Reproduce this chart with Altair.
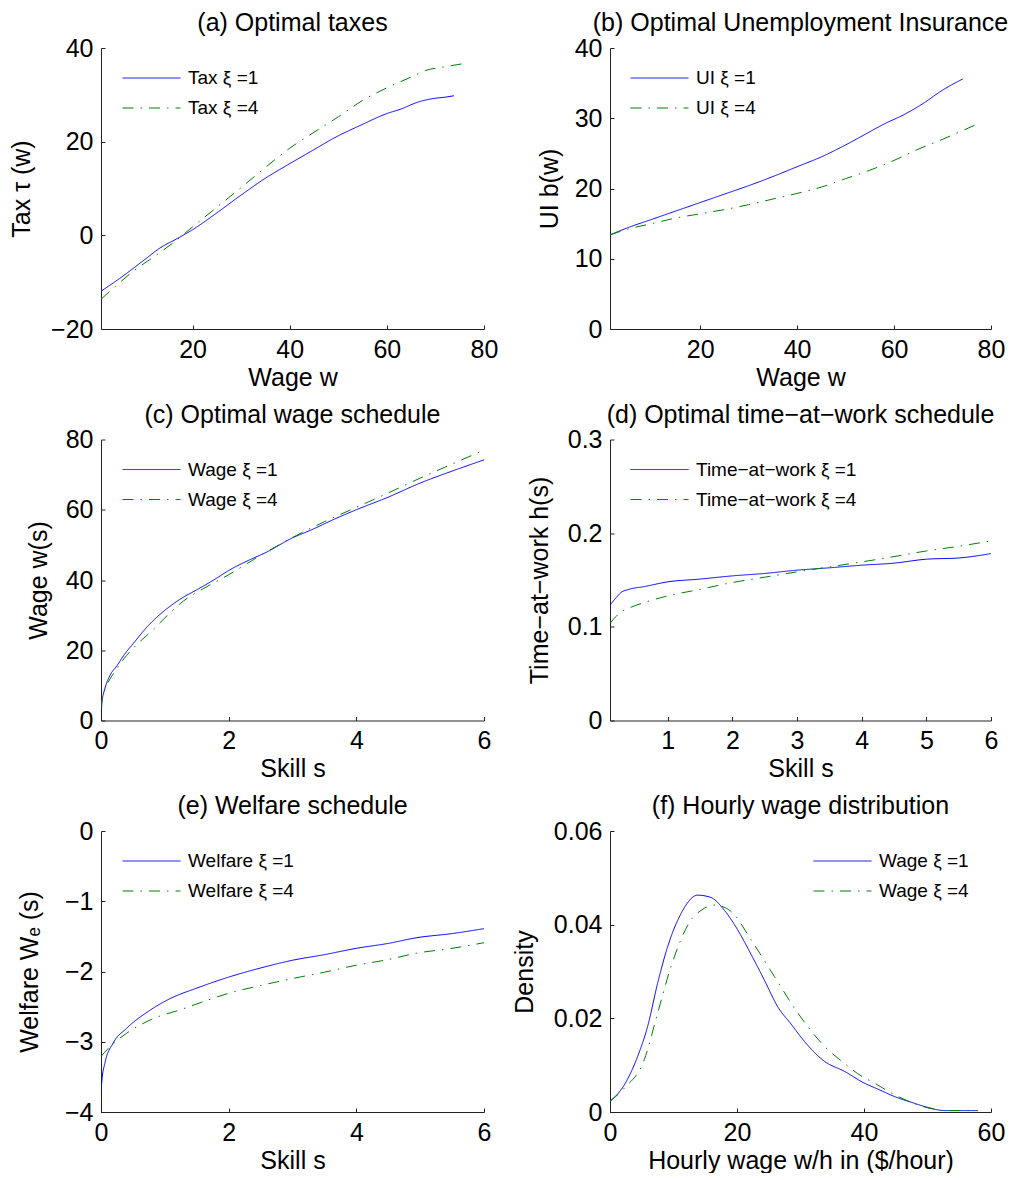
import altair as alt
import pandas as pd

FONT = "Liberation Sans"
BLUE = "#0000ff"
GREEN = "#008000"
DASHDOT = [11, 7, 1.5, 7]

# (a) Optimal taxes
a_w1 = [1.2, 5, 10, 13.3, 17, 20, 25, 30, 35, 40, 45, 49, 55, 60, 63, 66, 69.5, 72, 73.8]
a_t1 = [-11.9, -9.2, -5.3, -2.7, -0.6, 1.2, 4.8, 8.6, 12.2, 15.3, 18.3, 20.7, 23.7, 26.0, 27.0, 28.3, 29.2, 29.5, 29.8]
a_w4 = [1.2, 4, 8, 12, 16, 20, 25, 30, 35, 40, 45, 50, 55, 60, 65, 68, 72, 76]
a_t4 = [-13.6, -11.0, -7.5, -4.6, -1.6, 1.8, 6.0, 10.2, 14.5, 18.6, 22.0, 25.3, 28.8, 31.5, 33.8, 35.2, 36.0, 36.7]

# (b) Optimal unemployment insurance
b_w1 = [1.4, 5, 10, 15, 20, 25, 30, 35, 40, 45, 50, 54, 58, 62, 66, 70, 74.2]
b_b1 = [13.4, 14.4, 15.6, 16.8, 18.0, 19.2, 20.4, 21.7, 23.1, 24.5, 26.2, 27.7, 29.2, 30.5, 32.1, 34.0, 35.6]
b_w4 = [1.4, 5, 10, 15, 20, 25, 30, 35, 40, 45, 50, 55, 60, 65, 70, 76.6]
b_b4 = [13.4, 14.2, 15.0, 15.8, 16.4, 17.0, 17.7, 18.5, 19.3, 20.2, 21.4, 22.6, 24.0, 25.6, 27.0, 29.0]

# (c) Optimal wage schedule
c_s1 = [0, 0.016, 0.06, 0.14, 0.25, 0.375, 0.5, 0.74, 1.03, 1.29, 1.5, 1.81, 2.0, 2.3, 2.59, 3.0, 3.3, 3.64, 4.0, 4.5, 5.0, 5.5, 6.0]
c_w1 = [0.5, 5.2, 9, 12.8, 15.6, 19, 21.8, 27, 31.8, 35.1, 37.2, 40.5, 42.7, 45.5, 47.9, 52.0, 54.3, 57.2, 60.0, 63.6, 67.6, 71.0, 74.2]
c_s4 = [0, 0.02, 0.09, 0.2, 0.4, 0.6, 0.77, 1.0, 1.29, 1.6, 2.0, 2.5, 3.0, 3.5, 4.0, 4.5, 5.0, 5.5, 6.0]
c_w4 = [3.5, 6.5, 10, 13.5, 18.5, 22.3, 25.1, 29.2, 34.0, 37.5, 41.5, 47.0, 52.1, 56.6, 60.7, 64.8, 69.0, 73.0, 77.0]

# (d) Optimal time-at-work schedule
d_s1 = [0.11, 0.2, 0.28, 0.4, 0.64, 1.0, 1.5, 2.0, 2.5, 3.0, 3.5, 4.0, 4.5, 5.0, 5.5, 6.0]
d_h1 = [0.1232, 0.131, 0.1367, 0.140, 0.143, 0.148, 0.151, 0.1544, 0.157, 0.1605, 0.163, 0.1658, 0.168, 0.1722, 0.1735, 0.1782]
d_s4 = [0.11, 0.2, 0.28, 0.4, 0.64, 1.0, 1.5, 2.0, 2.5, 3.0, 3.5, 4.0, 4.5, 5.0, 5.5, 6.0]
d_h4 = [0.1037, 0.111, 0.116, 0.120, 0.126, 0.133, 0.140, 0.1473, 0.153, 0.1587, 0.164, 0.1693, 0.175, 0.181, 0.186, 0.1917]

# (e) Welfare schedule
e_s1 = [0, 0.005, 0.016, 0.06, 0.19, 0.4, 0.77, 1.03, 1.55, 2.0, 2.5, 3.0, 3.5, 4.0, 4.5, 4.94, 5.5, 6.0]
e_v1 = [-4.0, -3.7, -3.54, -3.31, -3.02, -2.81, -2.55, -2.41, -2.22, -2.08, -1.95, -1.84, -1.76, -1.67, -1.60, -1.52, -1.46, -1.39]
e_s4 = [0, 0.14, 0.4, 0.77, 1.29, 1.6, 2.0, 2.5, 3.0, 3.5, 4.0, 4.5, 4.94, 5.5, 6.0]
e_v4 = [-3.21, -3.07, -2.88, -2.69, -2.53, -2.43, -2.31, -2.20, -2.10, -2.01, -1.91, -1.83, -1.74, -1.67, -1.59]

# (f) Hourly wage distribution
f_x1 = [0, 2.26, 4.36, 5.93, 7.5, 9.08, 11.2, 13.8, 15.9, 18.0, 20.1, 22.2, 24.3, 26.4, 28.5, 30.6, 33.8, 36.9, 40.0, 42.5, 44.8, 47.4, 50.0, 52.7, 55, 57.9]
f_d1 = [0.0023, 0.0058, 0.0119, 0.0183, 0.0275, 0.0353, 0.0424, 0.0463, 0.0458, 0.0431, 0.0389, 0.0337, 0.0282, 0.0225, 0.0188, 0.0151, 0.0108, 0.0087, 0.0062, 0.0047, 0.0033, 0.0021, 0.0010, 0.0003, 0.0003, 0.0003]
f_x4 = [0, 2.26, 5.41, 7.5, 9.6, 12.76, 14.5, 16.4, 19.1, 22.2, 25.9, 29.6, 33.8, 36.9, 39.0, 41.6, 44.8, 47.0, 50.0, 53, 57.9]
f_d4 = [0.0023, 0.0051, 0.0112, 0.0211, 0.031, 0.041, 0.0432, 0.0442, 0.0428, 0.0368, 0.0289, 0.0211, 0.014, 0.0104, 0.0082, 0.0062, 0.0037, 0.0023, 0.0009, 0.0003, 0.0003]

H = 281


def panel(title, x1, y1, x4, y4, lab1, lab4, xdom, ydom, xticks, yticks,
          xtitle, ytitle, legx, ytpad, width):
    df = pd.DataFrame({
        "x": x1 + x4,
        "y": y1 + y4,
        "s": [lab1] * len(x1) + [lab4] * len(x4),
        "o": list(range(len(x1))) + list(range(len(x4))),
    })
    leg = alt.Legend(
        title=None, orient="none", legendX=legx, legendY=19,
        symbolType="stroke", symbolSize=3364, symbolStrokeWidth=1,
        labelFont=FONT, labelFontSize=19, labelColor="black", labelLimit=400,
        labelOffset=7, rowPadding=8, clipHeight=22, padding=0,
    )
    return alt.Chart(df, title=alt.Title(
        title, font=FONT, fontSize=25, fontWeight="normal", color="black", offset=0
    )).mark_line(strokeWidth=1, clip=True, interpolate="monotone").encode(
        x=alt.X("x:Q", scale=alt.Scale(domain=xdom, nice=False, zero=False),
                axis=alt.Axis(values=xticks, title=xtitle)),
        y=alt.Y("y:Q", scale=alt.Scale(domain=ydom, nice=False, zero=False),
                axis=alt.Axis(values=yticks, title=ytitle, format="~r", titlePadding=ytpad)),
        color=alt.Color("s:N", scale=alt.Scale(domain=[lab1, lab4], range=[BLUE, GREEN]), legend=leg),
        strokeDash=alt.StrokeDash("s:N", scale=alt.Scale(domain=[lab1, lab4], range=[[1, 0], DASHDOT]), legend=leg),
        order="o:Q",
    ).properties(width=width, height=H)


pa = panel("(a) Optimal taxes", a_w1, a_t1, a_w4, a_t4, "Tax ξ =1", "Tax ξ =4",
           [1.15, 80], [-20, 40], [20, 40, 60, 80], [-20, 0, 20, 40], "Wage w", "Tax τ (w)", 21, 16, 383)
pb = panel("(b) Optimal Unemployment Insurance", b_w1, b_b1, b_w4, b_b4, "UI ξ =1", "UI ξ =4",
           [1.4, 80], [0, 40], [20, 40, 60, 80], [0, 10, 20, 30, 40], "Wage w", "UI b(w)", 20, 12, 381)
pc = panel("(c) Optimal wage schedule", c_s1, c_w1, c_s4, c_w4, "Wage ξ =1", "Wage ξ =4",
           [0, 6], [0, 80], [0, 2, 4, 6], [0, 20, 40, 60, 80], "Skill s", "Wage w(s)", 21, 14, 383)
pd_ = panel("(d) Optimal time−at−work schedule", d_s1, d_h1, d_s4, d_h4,
            "Time−at−work ξ =1", "Time−at−work ξ =4",
            [0.108, 6], [0, 0.3], [1, 2, 3, 4, 5, 6], [0, 0.1, 0.2, 0.3], "Skill s", "Time−at−work h(s)", 20, 15, 381)
pe = panel("(e) Welfare schedule", e_s1, e_v1, e_s4, e_v4, "Welfare ξ =1", "Welfare ξ =4",
           [0, 6], [-4, 0], [0, 2, 4, 6], [-4, -3, -2, -1, 0], "Skill s", "Welfare Wₑ (s)", 21, 22, 383)
pf = panel("(f) Hourly wage distribution", f_x1, f_d1, f_x4, f_d4, "Wage ξ =1", "Wage ξ =4",
           [0, 60], [0, 0.06], [0, 20, 40, 60], [0, 0.02, 0.04, 0.06], "Hourly wage w/h in ($/hour)", "Density", 203, 16, 381)

chart = alt.concat(pa, pb, pc, pd_, pe, pf, columns=2, spacing={"row": 12.5, "column": 14}).resolve_scale(
    color="independent", strokeDash="independent"
).properties(
    padding={"left": 9, "top": 11, "right": 2, "bottom": 0}, background="white"
).configure_view(stroke=None).configure_axis(
    labelFont=FONT, labelFontSize=25, labelColor="black",
    titleFont=FONT, titleFontSize=25, titleFontWeight="normal", titleColor="black",
    domainColor="#222", domainWidth=1, tickColor="#222", tickWidth=1,
    tickSize={"expr": "-4"}, grid=False, labelFlush=False, labelOverlap=False,
).configure_axisX(labelPadding=12, titlePadding=3).configure_axisY(labelPadding=12)

chart.save("out.html", embed_options={"renderer": "svg", "actions": False})
